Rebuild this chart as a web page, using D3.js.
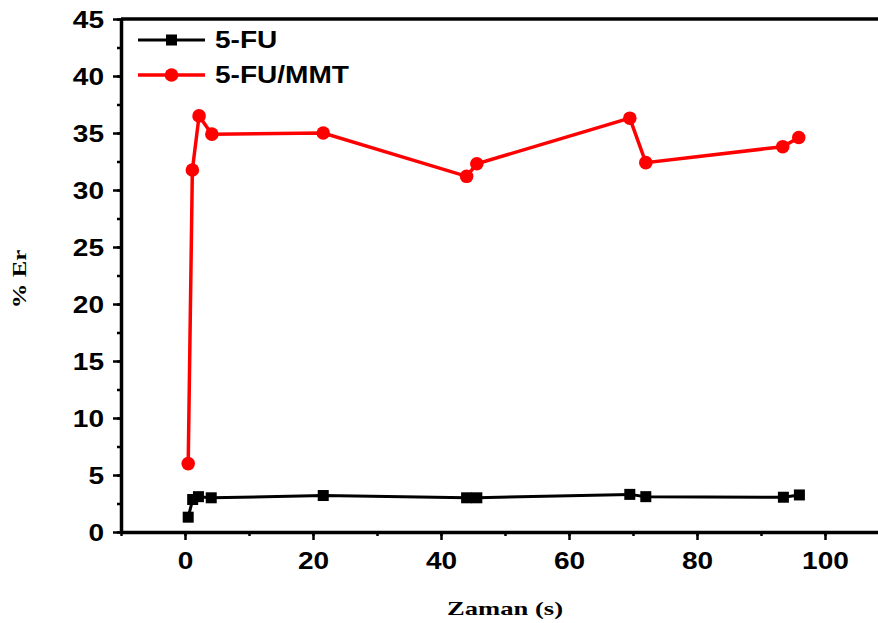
<!DOCTYPE html>
<html>
<head>
<meta charset="utf-8">
<script src="https://cdn.jsdelivr.net/npm/d3@7/dist/d3.min.js"></script>
<style>
  body { margin: 0; background: #fff; }
  svg { display: block; }
  .tick text { font-family: "Liberation Sans", Arial, sans-serif; font-weight: bold; font-size: 23px; fill: #000; }
</style>
</head>
<body>
<div id="vis"></div>
<script>
// data
var timeFU = [0.5, 1.2, 2.1, 4.1, 21.6, 44.0, 45.6, 69.5, 72.0, 93.5, 96.0];
var erFU = [1.3, 2.85, 3.1, 3.0, 3.2, 3.0, 3.0, 3.3, 3.1, 3.05, 3.25];

var timeMMT = [0.5, 1.15, 2.2, 4.2, 21.6, 44.0, 45.6, 69.5, 72.0, 93.4, 95.9];
var erMMT = [6.0, 31.75, 36.5, 34.9, 35.0, 31.2, 32.3, 36.3, 32.4, 33.8, 34.6];

var seriesNames = ['5-FU', '5-FU/MMT'];
var xTicks = [0, 20, 40, 60, 80, 100];
var yTicks = [0, 5, 10, 15, 20, 25, 30, 35, 40, 45];

var width = 878, height = 623;
var stretch = 1.22;   // the reference fonts look widened

var x = d3.scaleLinear().domain([-10, 110]).range([121, 889]);
var y = d3.scaleLinear().domain([0, 45]).range([532, 19]);

var svg = d3.select('#vis').append('svg')
  .attr('width', width)
  .attr('height', height);

// minor ticks
var xMinor = d3.range(-10, 111, 10);
var yMinor = d3.range(0, 45.1, 2.5);

svg.append('g')
  .attr('transform', 'translate(0,532)')
  .call(d3.axisBottom(x).tickValues(xMinor).tickSize(4).tickFormat(''))
  .call(function(g) { g.select('.domain').remove(); })
  .selectAll('line').attr('stroke-width', 2.5);

svg.append('g')
  .attr('transform', 'translate(121,0)')
  .call(d3.axisLeft(y).tickValues(yMinor).tickSize(4).tickFormat(''))
  .call(function(g) { g.select('.domain').remove(); })
  .selectAll('line').attr('stroke-width', 2.5);

// major axes
var xAxis = svg.append('g')
  .attr('transform', 'translate(0,532)')
  .call(d3.axisBottom(x).tickValues(xTicks).tickSize(8).tickPadding(13).tickSizeOuter(0));
xAxis.select('.domain').attr('stroke-width', 3.5);
xAxis.selectAll('line').attr('stroke-width', 2.5);
xAxis.selectAll('text').attr('transform', 'scale(' + stretch + ',1)');

var yAxis = svg.append('g')
  .attr('transform', 'translate(121,0)')
  .call(d3.axisLeft(y).tickValues(yTicks).tickSize(8).tickPadding(9).tickSizeOuter(0));
yAxis.select('.domain').attr('stroke-width', 3.5);
yAxis.selectAll('line').attr('stroke-width', 2.5);
yAxis.selectAll('text')
  .attr('dy', '0.36em')
  .attr('x', -17 / stretch)
  .attr('transform', 'scale(' + stretch + ',1)');

// top frame line
svg.append('line')
  .attr('x1', x(-10)).attr('x2', x(110))
  .attr('y1', y(45)).attr('y2', y(45))
  .attr('stroke', '#000')
  .attr('stroke-width', 3.5);

var line = d3.line()
  .x(function(d) { return x(d[0]); })
  .y(function(d) { return y(d[1]); });

var fuData = timeFU.map(function(t, i) { return [t, erFU[i]]; });
var mmtData = timeMMT.map(function(t, i) { return [t, erMMT[i]]; });

svg.append('path')
  .datum(mmtData)
  .attr('d', line)
  .attr('fill', 'none')
  .attr('stroke', '#ff0000')
  .attr('stroke-width', 3.5);

svg.selectAll('.dotR')
  .data(mmtData)
  .enter().append('circle')
  .attr('class', 'dotR')
  .attr('cx', function(d) { return x(d[0]); })
  .attr('cy', function(d) { return y(d[1]); })
  .attr('r', 6.8)
  .attr('fill', '#ff0000');

svg.append('path')
  .datum(fuData)
  .attr('d', line)
  .attr('fill', 'none')
  .attr('stroke', '#000')
  .attr('stroke-width', 3);

svg.selectAll('.dotB')
  .data(fuData)
  .enter().append('rect')
  .attr('class', 'dotB')
  .attr('x', function(d) { return x(d[0]) - 5.5; })
  .attr('y', function(d) { return y(d[1]) - 5.5; })
  .attr('width', 11)
  .attr('height', 11)
  .attr('fill', '#000');

// legend
var legendColors = ['#000', '#ff0000'];
var legend = svg.selectAll('.legend')
  .data(seriesNames)
  .enter().append('g')
  .attr('class', 'legend')
  .attr('transform', function(d, i) { return 'translate(138,' + (40 + i * 35) + ')'; });

legend.append('line')
  .attr('x1', 0).attr('x2', 67)
  .attr('stroke', function(d, i) { return legendColors[i]; })
  .attr('stroke-width', function(d, i) { return i === 0 ? 3 : 3.5; });

legend.each(function(d, i) {
  var g = d3.select(this);
  if (i === 0) {
    g.append('rect').attr('x', 28).attr('y', -5.5).attr('width', 11).attr('height', 11).attr('fill', '#000');
  } else {
    g.append('circle').attr('cx', 33.5).attr('r', 6.8).attr('fill', '#ff0000');
  }
});

legend.append('text')
  .attr('transform', 'translate(77,0) scale(' + stretch + ',1)')
  .attr('dy', '0.36em')
  .style('font-family', '"Liberation Sans", Arial, sans-serif')
  .style('font-weight', 'bold')
  .style('font-size', '23px')
  .text(function(d) { return d; });

// axis titles
svg.append('text')
  .attr('transform', 'translate(505,615) scale(1.4,1)')
  .attr('text-anchor', 'middle')
  .style('font-family', '"Liberation Serif", "Times New Roman", serif')
  .style('font-weight', 'bold')
  .style('font-size', '19px')
  .text('Zaman (s)');

svg.append('text')
  .attr('transform', 'translate(26,279) rotate(-90) scale(1.3,1)')
  .attr('text-anchor', 'middle')
  .style('font-family', '"Liberation Serif", "Times New Roman", serif')
  .style('font-weight', 'bold')
  .style('font-size', '19px')
  .text('% Er');
</script>
</body>
</html>
